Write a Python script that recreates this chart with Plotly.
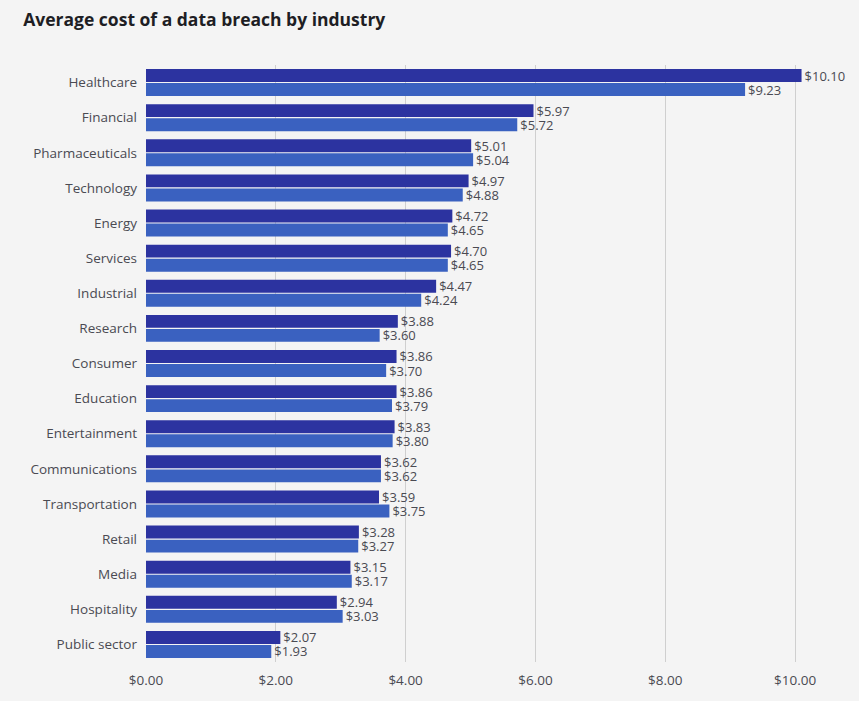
import plotly.graph_objects as go

# Average cost of a data breach (USD millions) by industry
industries = [
    "Healthcare", "Financial", "Pharmaceuticals", "Technology", "Energy",
    "Services", "Industrial", "Research", "Consumer", "Education",
    "Entertainment", "Communications", "Transportation", "Retail", "Media",
    "Hospitality", "Public sector",
]
cost_2022 = [10.10, 5.97, 5.01, 4.97, 4.72, 4.70, 4.47, 3.88, 3.86, 3.86,
             3.83, 3.62, 3.59, 3.28, 3.15, 2.94, 2.07]
cost_2021 = [9.23, 5.72, 5.04, 4.88, 4.65, 4.65, 4.24, 3.60, 3.70, 3.79,
             3.80, 3.62, 3.75, 3.27, 3.17, 3.03, 1.93]

x_ticks = [0, 2, 4, 6, 8, 10]
x_tick_labels = ["$0.00", "$2.00", "$4.00", "$6.00", "$8.00", "$10.00"]

axis_font = dict(family="Open Sans, sans-serif", size=13.5, color="#4a4a52")
value_font = dict(family="Open Sans, sans-serif", size=13, color="#4a4a52")

fig = go.Figure()
for name, values, color in [
    ("2022", cost_2022, "#2c33a0"),
    ("2021", cost_2021, "#3a61c0"),
]:
    fig.add_trace(go.Bar(
        name=name,
        y=industries,
        x=values,
        orientation="h",
        marker=dict(color=color, line=dict(width=0)),
        texttemplate="$%{x:.2f}",
        textposition="outside",
        constraintext="none",
        textfont=value_font,
        cliponaxis=False,
    ))

fig.update_layout(
    width=859,
    height=701,
    barmode="group",
    bargap=0.2,
    bargroupgap=0.08,
    showlegend=False,
    paper_bgcolor="#f4f4f4",
    plot_bgcolor="#f4f4f4",
    margin=dict(l=146, r=25, t=65, b=34),
    title=dict(
        text="<b>Average cost of a data breach by industry</b>",
        x=0.027, xanchor="left", y=0.972, yanchor="middle",
        font=dict(family="Open Sans, sans-serif", size=17.5, color="#1e1e24"),
    ),
)
fig.update_xaxes(
    range=[0, 10.6],
    tickvals=x_ticks,
    ticktext=x_tick_labels,
    showgrid=True,
    gridcolor="#cfcfcf",
    gridwidth=1,
    zeroline=False,
    showline=False,
    ticks="",
    tickfont=axis_font,
    ticklabelstandoff=8,
)
fig.update_yaxes(
    autorange="reversed",
    showgrid=False,
    ticks="",
    tickfont=axis_font,
    ticklabelstandoff=8,
)

fig.write_html("out.html")
